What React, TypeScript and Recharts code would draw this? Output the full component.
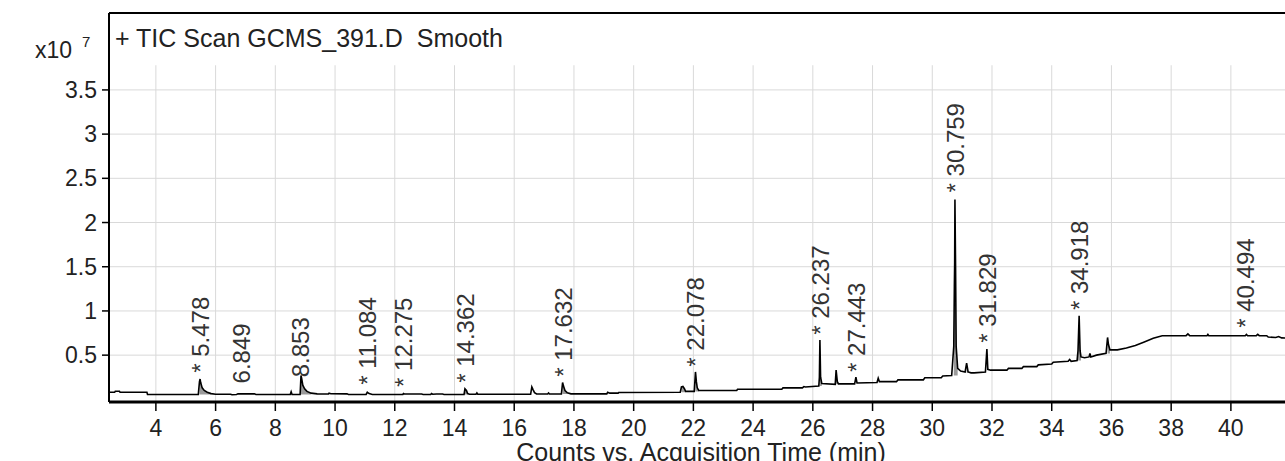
import { ComposedChart, Line, Area, Scatter, XAxis, YAxis, CartesianGrid, ReferenceArea, ReferenceLine } from 'recharts';

const FONT = '"Liberation Sans", Arial, sans-serif';

// retention time (min)
const rt = [
  2.43, 2.62, 2.64, 2.78, 2.8, 3.7, 3.72, 5.42, 5.46, 5.48, 5.5, 5.55, 5.62, 5.72, 5.85, 6.0,
  6.5, 6.55, 6.7, 6.75, 6.85, 7.3, 7.35, 8.5, 8.53, 8.56, 8.83, 8.86, 8.88, 8.92, 8.98, 9.06,
  9.2, 9.4, 9.78, 9.8, 9.86, 10.4, 10.45, 11.04, 11.08, 11.14, 11.25, 12.27, 12.29, 12.32, 12.9, 12.95,
  13.2, 13.23, 13.27, 13.4, 13.6, 13.65, 14.32, 14.35, 14.4, 14.44, 14.5, 14.72, 14.75, 14.78, 16.55, 16.59,
  16.63, 16.68, 16.75, 17.12, 17.15, 17.18, 17.58, 17.62, 17.65, 17.7, 17.78, 17.9, 19.1, 19.13, 19.2, 19.48,
  19.5, 21.56, 21.6, 21.65, 21.7, 21.74, 22.03, 22.07, 22.1, 22.13, 22.18, 23.45, 23.48, 24.96, 25.0, 25.65,
  25.7, 25.75, 26.2, 26.22, 26.237, 26.26, 26.3, 26.75, 26.78, 26.82, 26.86, 27.4, 27.443, 27.48, 28.15, 28.19,
  28.23, 28.8, 28.85, 29.7, 29.75, 30.3, 30.35, 30.65, 30.72, 30.74, 30.75, 30.759, 30.78, 30.8, 30.85, 30.95,
  31.1, 31.15, 31.2, 31.3, 31.4, 31.78, 31.829, 31.86, 31.95, 32.5, 32.55, 33.0, 33.05, 33.5, 33.55, 34.0,
  34.05, 34.55, 34.6, 34.65, 34.85, 34.88, 34.918, 34.95, 34.98, 35.1, 35.25, 35.28, 35.31, 35.5, 35.82, 35.87,
  35.9, 35.95, 36.2, 36.5, 36.8, 37.1, 37.4, 37.7, 38.5, 38.56, 38.62, 39.2, 39.23, 39.26, 40.48, 40.52,
  40.56, 40.85, 40.9, 40.95, 41.2, 41.25, 41.5, 41.6, 41.7, 42.08,
];

// TIC counts (x10^7)
const tic = [
  0.08, 0.08, 0.092, 0.092, 0.08, 0.08, 0.055, 0.055, 0.2, 0.23, 0.19, 0.13, 0.1, 0.08, 0.065, 0.058,
  0.058, 0.052, 0.055, 0.062, 0.064, 0.062, 0.055, 0.055, 0.085, 0.055, 0.055, 0.27, 0.24, 0.16, 0.12, 0.09,
  0.07, 0.062, 0.06, 0.07, 0.064, 0.062, 0.055, 0.055, 0.08, 0.065, 0.055, 0.055, 0.065, 0.06, 0.06, 0.055,
  0.055, 0.065, 0.058, 0.06, 0.06, 0.055, 0.055, 0.12, 0.1, 0.065, 0.058, 0.058, 0.072, 0.058, 0.058, 0.14,
  0.11, 0.075, 0.06, 0.06, 0.072, 0.06, 0.06, 0.19, 0.15, 0.1, 0.075, 0.062, 0.062, 0.08, 0.07, 0.07,
  0.078, 0.08, 0.14, 0.145, 0.12, 0.09, 0.09, 0.31, 0.2, 0.13, 0.1, 0.1, 0.115, 0.115, 0.13, 0.13,
  0.145, 0.14, 0.15, 0.25, 0.67, 0.25, 0.18, 0.17, 0.33, 0.2, 0.175, 0.175, 0.25, 0.185, 0.19, 0.24,
  0.2, 0.2, 0.22, 0.22, 0.245, 0.245, 0.265, 0.27, 0.6, 1.28, 1.55, 2.26, 1.5, 0.6, 0.35, 0.32,
  0.31, 0.41, 0.31, 0.3, 0.3, 0.31, 0.57, 0.34, 0.33, 0.33, 0.35, 0.35, 0.37, 0.37, 0.39, 0.4,
  0.42, 0.43, 0.45, 0.43, 0.44, 0.55, 0.945, 0.55, 0.48, 0.47, 0.48, 0.52, 0.48, 0.5, 0.52, 0.7,
  0.62, 0.56, 0.56, 0.58, 0.61, 0.65, 0.69, 0.72, 0.72, 0.74, 0.72, 0.72, 0.735, 0.72, 0.72, 0.735,
  0.72, 0.72, 0.735, 0.72, 0.72, 0.705, 0.7, 0.71, 0.695, 0.69,
];

// integrated (shaded) peak windows and their baselines
const shadeFrom = [5.46, 8.86, 14.35, 17.62, 21.6, 22.07, 26.22, 26.78, 30.72, 31.15, 34.88, 35.87];
const shadeTo = [5.85, 9.2, 14.44, 17.78, 21.74, 22.18, 26.3, 26.86, 30.85, 31.2, 34.98, 35.95];
const shadeBase = [0.055, 0.055, 0.055, 0.06, 0.08, 0.09, 0.15, 0.17, 0.27, 0.3, 0.44, 0.52];

// annotated peaks
const peakRt = [5.478, 6.849, 8.853, 11.084, 12.275, 14.362, 17.632, 22.078, 26.237, 27.443, 30.759, 31.829, 34.918, 40.494];
const peakText = ['* 5.478', '6.849', '8.853', '* 11.084', '* 12.275', '* 14.362', '* 17.632', '* 22.078', '* 26.237', '* 27.443', '* 30.759', '* 31.829', '* 34.918', '* 40.494'];
const labelBase = [0.3, 0.18, 0.25, 0.164, 0.14, 0.187, 0.255, 0.37, 0.73, 0.31, 2.34, 0.64, 1.01, 0.81];

const xTicks = [4, 6, 8, 10, 12, 14, 16, 18, 20, 22, 24, 26, 28, 30, 32, 34, 36, 38, 40];
const yTicks = [0.5, 1, 1.5, 2, 2.5, 3, 3.5];

const trace = rt.map((t, i) => {
  const w = shadeFrom.findIndex((s, j) => t >= s && t <= shadeTo[j]);
  return { rt: t, tic: tic[i], band: w >= 0 ? [shadeBase[w], tic[i]] : null };
});
const peaks = peakRt.map((t, i) => ({ rt: t, y: labelBase[i], text: peakText[i] }));

const PeakLabel = (props: any) => {
  const { cx, cy, payload } = props;
  if (cx == null || cy == null) return null;
  return (
    <text
      x={cx}
      y={cy}
      dy="0.36em"
      transform={`rotate(-90 ${cx} ${cy})`}
      fontSize={24}
      fontFamily={FONT}
      fill="#333"
      style={{ whiteSpace: 'pre' }}
    >
      {payload.text}
    </text>
  );
};

export default function App() {
  return (
    <div style={{ position: 'fixed', left: 0, top: 0, width: 1285, height: 461, overflow: 'hidden', background: '#fff' }}>
      <ComposedChart width={1310} height={461} data={trace} margin={{ top: 13, right: 17, left: 0, bottom: 0 }}>
        <CartesianGrid stroke="#d9d9d9" strokeWidth={1} />
        <ReferenceArea y1={3.78} y2={4.37} fill="#fff" fillOpacity={1} stroke="none" />
        <XAxis
          dataKey="rt"
          type="number"
          domain={[2.43, 42.08]}
          ticks={xTicks}
          allowDataOverflow
          height={59}
          tickSize={9}
          tickMargin={9}
          axisLine={{ stroke: '#000', strokeWidth: 3 }}
          tickLine={{ stroke: '#000', strokeWidth: 1.5 }}
          tick={{ fontSize: 23, fill: '#222', fontFamily: FONT }}
          label={{ value: 'Counts vs. Acquisition Time (min)', position: 'insideBottom', offset: 0, fontSize: 25, fill: '#222', fontFamily: FONT }}
        />
        <YAxis
          type="number"
          domain={[-0.03, 4.37]}
          ticks={yTicks}
          allowDataOverflow
          width={109}
          tickSize={7}
          tickMargin={5}
          axisLine={{ stroke: '#000', strokeWidth: 2 }}
          tickLine={{ stroke: '#000', strokeWidth: 1.5 }}
          tick={{ fontSize: 23, fill: '#222', fontFamily: FONT }}
        />
        <ReferenceLine y={4.37} stroke="#000" strokeWidth={2} />
        <Area
          type="linear"
          dataKey="band"
          stroke="none"
          fill="#9a9a9a"
          fillOpacity={1}
          connectNulls={false}
          isAnimationActive={false}
        />
        <Line type="linear" dataKey="tic" stroke="#000" strokeWidth={1.6} dot={false} isAnimationActive={false} />
        <Scatter data={peaks} dataKey="y" shape={PeakLabel} isAnimationActive={false} />
      </ComposedChart>
      <svg width={1285} height={461} style={{ position: 'absolute', left: 0, top: 0, pointerEvents: 'none' }}>
        <text x={35} y={58} fontSize={23} fontFamily={FONT} fill="#222">x10</text>
        <text x={82} y={47} fontSize={15} fontFamily={FONT} fill="#222">7</text>
        <text x={115} y={47} fontSize={25} fontFamily={FONT} fill="#222" style={{ whiteSpace: 'pre' }}>
          + TIC Scan GCMS_391.D  Smooth
        </text>
      </svg>
    </div>
  );
}
